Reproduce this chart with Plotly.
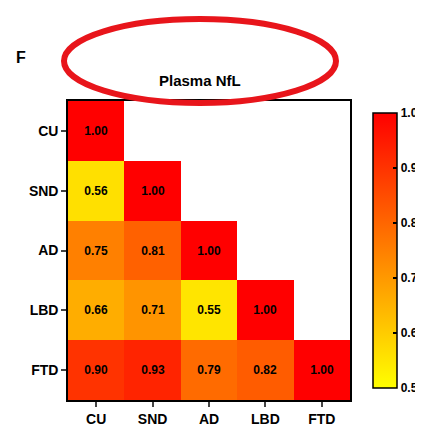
import plotly.graph_objects as go

groups = ["CU", "SND", "AD", "LBD", "FTD"]
z = [
    [1.00, None, None, None, None],
    [0.56, 1.00, None, None, None],
    [0.75, 0.81, 1.00, None, None],
    [0.66, 0.71, 0.55, 1.00, None],
    [0.90, 0.93, 0.79, 0.82, 1.00],
]
text = [[("%.2f" % v) if v is not None else "" for v in row] for row in z]
cb_ticks = [0.5, 0.6, 0.7, 0.8, 0.9, 1.0]

F = "Arial, Liberation Sans"
fig = go.Figure(go.Heatmap(
    z=z, x=groups, y=groups, text=text, texttemplate="%{text}",
    textfont=dict(family=F, size=12, color="black", weight="bold"),
    colorscale=[[0, "#FFFF00"], [1, "#FF0000"]], zmin=0.5, zmax=1.0,
    hoverongaps=False,
    colorbar=dict(x=(361 - 66) / 282, xanchor="left", y=0.5, yanchor="middle", len=295 / 299,
                  thickness=24, outlinewidth=1.5, outlinecolor="black",
                  tickvals=cb_ticks, ticktext=["%.1f" % v for v in cb_ticks],
                  ticks="inside", ticklen=4, tickwidth=1.5, tickcolor="black",
                  tickfont=dict(family=F, size=12, color="black", weight="bold")),
))
axfont = dict(family=F, size=14, color="black", weight="bold")
fig.update_xaxes(showline=True, linewidth=1.5, linecolor="black", mirror=True, ticks="outside",
                 ticklen=5, tickwidth=1.5, tickfont=axfont, showgrid=False)
fig.update_yaxes(autorange="reversed", showline=True, linewidth=1.5, linecolor="black", mirror=True,
                 ticks="outside", ticklen=5, tickwidth=1.5, tickfont=axfont, showgrid=False)
fig.update_layout(
    width=423, height=425, margin=dict(l=60, r=81, t=93, b=33, autoexpand=False),
    plot_bgcolor="white", paper_bgcolor="white",
    annotations=[
        dict(text="<b>Plasma NfL</b>", x=(198 - 66) / 282, y=(397 - 67) / 299, xref="paper", yref="paper",
             showarrow=False, font=dict(family=F, size=15, color="black")),
        dict(text="<b>F</b>", x=(12 - 66) / 282, y=(397 - 44) / 299, xref="paper", yref="paper",
             showarrow=False, font=dict(family=F, size=16, color="black"), xanchor="left"),
    ],
)
fig.add_shape(type="circle", xref="paper", yref="paper",
              x0=(62 - 66) / 282, x1=(334 - 66) / 282,
              y0=(397 - 100) / 299, y1=(397 - 16) / 299,
              line=dict(color="#E8151B", width=6))
fig.write_html("out.html")
